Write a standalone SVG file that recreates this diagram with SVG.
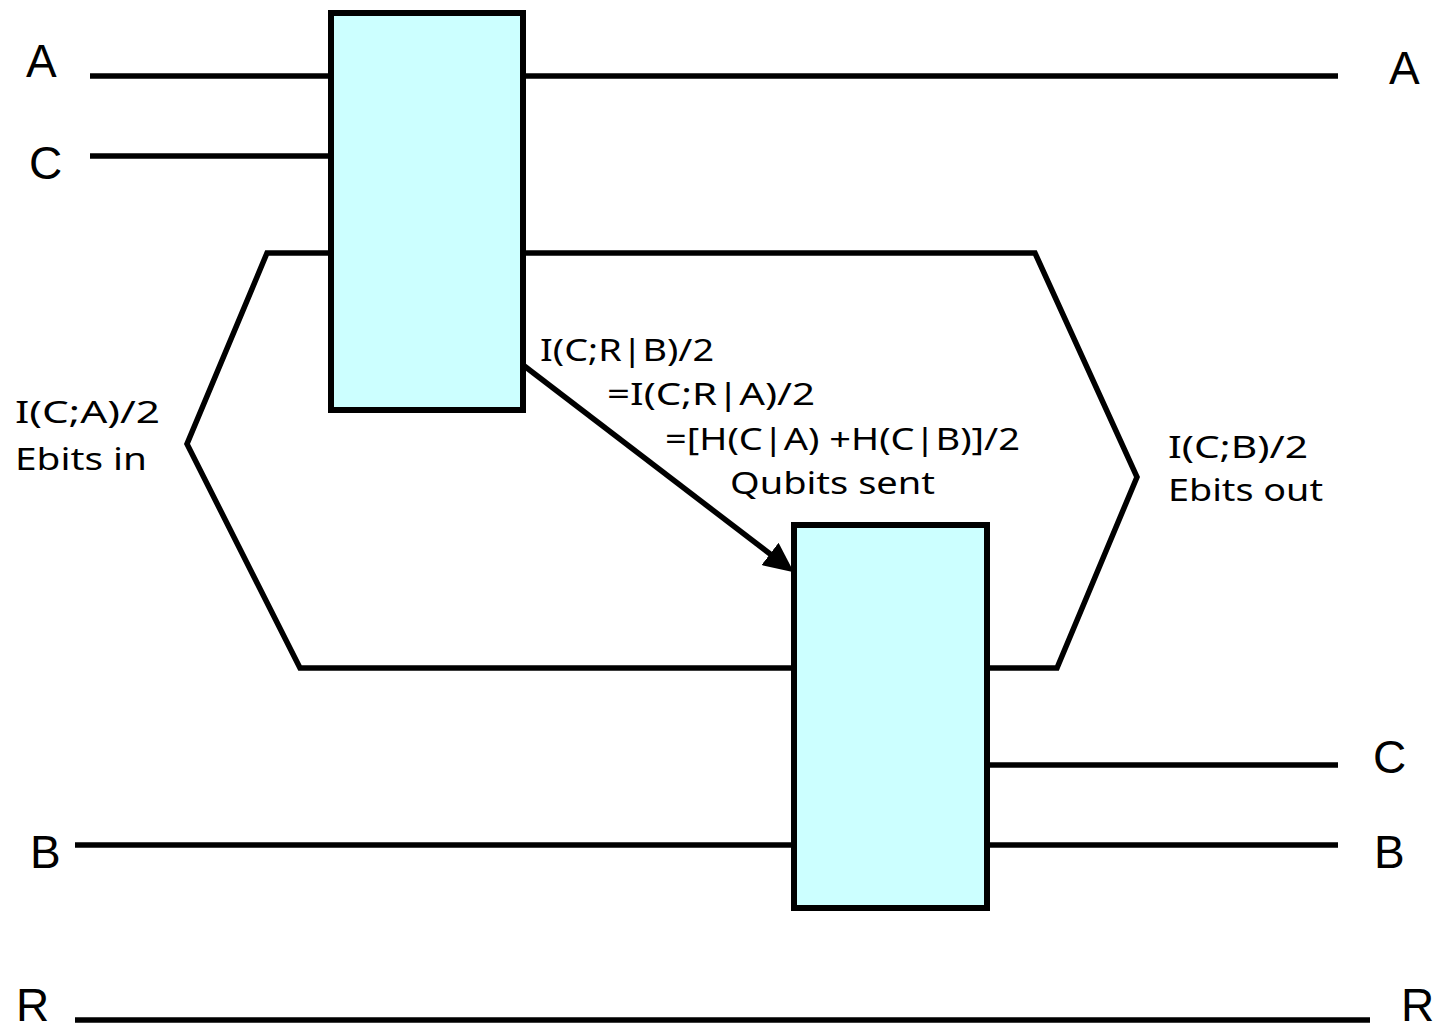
<svg xmlns="http://www.w3.org/2000/svg" width="1443" height="1031" viewBox="0 0 1443 1031">
<style>
.wire{fill:none;stroke:#000;stroke-width:5.5;stroke-linejoin:miter}
.box{fill:#ccffff;stroke:#000;stroke-width:6}
.lbl{font-family:"Liberation Sans",Arial,sans-serif;font-size:46px;fill:#000}
.note{font-family:"Comic Sans MS","Noto Sans","DejaVu Sans",sans-serif;font-size:31px;fill:#000}
</style>
<defs>
<marker id="ah" markerUnits="userSpaceOnUse" markerWidth="32" markerHeight="30" refX="10" refY="14" orient="auto">
<path d="M0,0 L30,14 L0,28 Z" fill="#000"/>
</marker>
</defs>
<rect width="1443" height="1031" fill="#fff"/>
<g id="connectors">
<line class="wire" x1="90" y1="76" x2="331" y2="76"/>
<line class="wire" x1="523" y1="76" x2="1338" y2="76"/>
<line class="wire" x1="90" y1="156" x2="331" y2="156"/>
<polyline class="wire" points="331,253 267,253 187,444 300,668 794,668"/>
<polyline class="wire" points="523,253 1035,253 1137,477 1057,668 987,668"/>
<line class="wire" x1="987" y1="765" x2="1338" y2="765"/>
<line class="wire" x1="75" y1="845" x2="794" y2="845"/>
<line class="wire" x1="987" y1="845" x2="1338" y2="845"/>
<line class="wire" x1="75" y1="1020" x2="1370" y2="1020"/>
<line class="wire" x1="523" y1="365" x2="778" y2="560" marker-end="url(#ah)"/>
</g>
<g id="node-gate1"><rect class="box" x="331" y="13" width="192" height="397"/></g>
<g id="node-gate2"><rect class="box" x="794" y="525" width="193" height="383"/></g>
<g id="labels">
<text class="lbl" x="26" y="77">A</text>
<text class="lbl" x="1389" y="84">A</text>
<text class="lbl" x="29" y="179">C</text>
<text class="lbl" x="1373" y="773">C</text>
<text class="lbl" x="30" y="868">B</text>
<text class="lbl" x="1374" y="868">B</text>
<text class="lbl" x="16" y="1021">R</text>
<text class="lbl" x="1401" y="1021">R</text>
</g>
<g id="notes">
<text class="note" x="15" y="423" textLength="145" lengthAdjust="spacingAndGlyphs">I(C;A)/2</text>
<text class="note" x="15" y="470" textLength="132" lengthAdjust="spacingAndGlyphs">Ebits in</text>
<text class="note" x="1168" y="458" textLength="140" lengthAdjust="spacingAndGlyphs">I(C;B)/2</text>
<text class="note" x="1168" y="501" textLength="155" lengthAdjust="spacingAndGlyphs">Ebits out</text>
<text class="note" x="540" y="361" textLength="174" lengthAdjust="spacingAndGlyphs">I(C;R|B)/2</text>
<text class="note" x="607" y="405" textLength="208" lengthAdjust="spacingAndGlyphs">=I(C;R|A)/2</text>
<text class="note" x="665" y="450" textLength="355" lengthAdjust="spacingAndGlyphs">=[H(C|A) +H(C|B)]/2</text>
<text class="note" x="730" y="494" textLength="205" lengthAdjust="spacingAndGlyphs">Qubits sent</text>
</g>
</svg>
